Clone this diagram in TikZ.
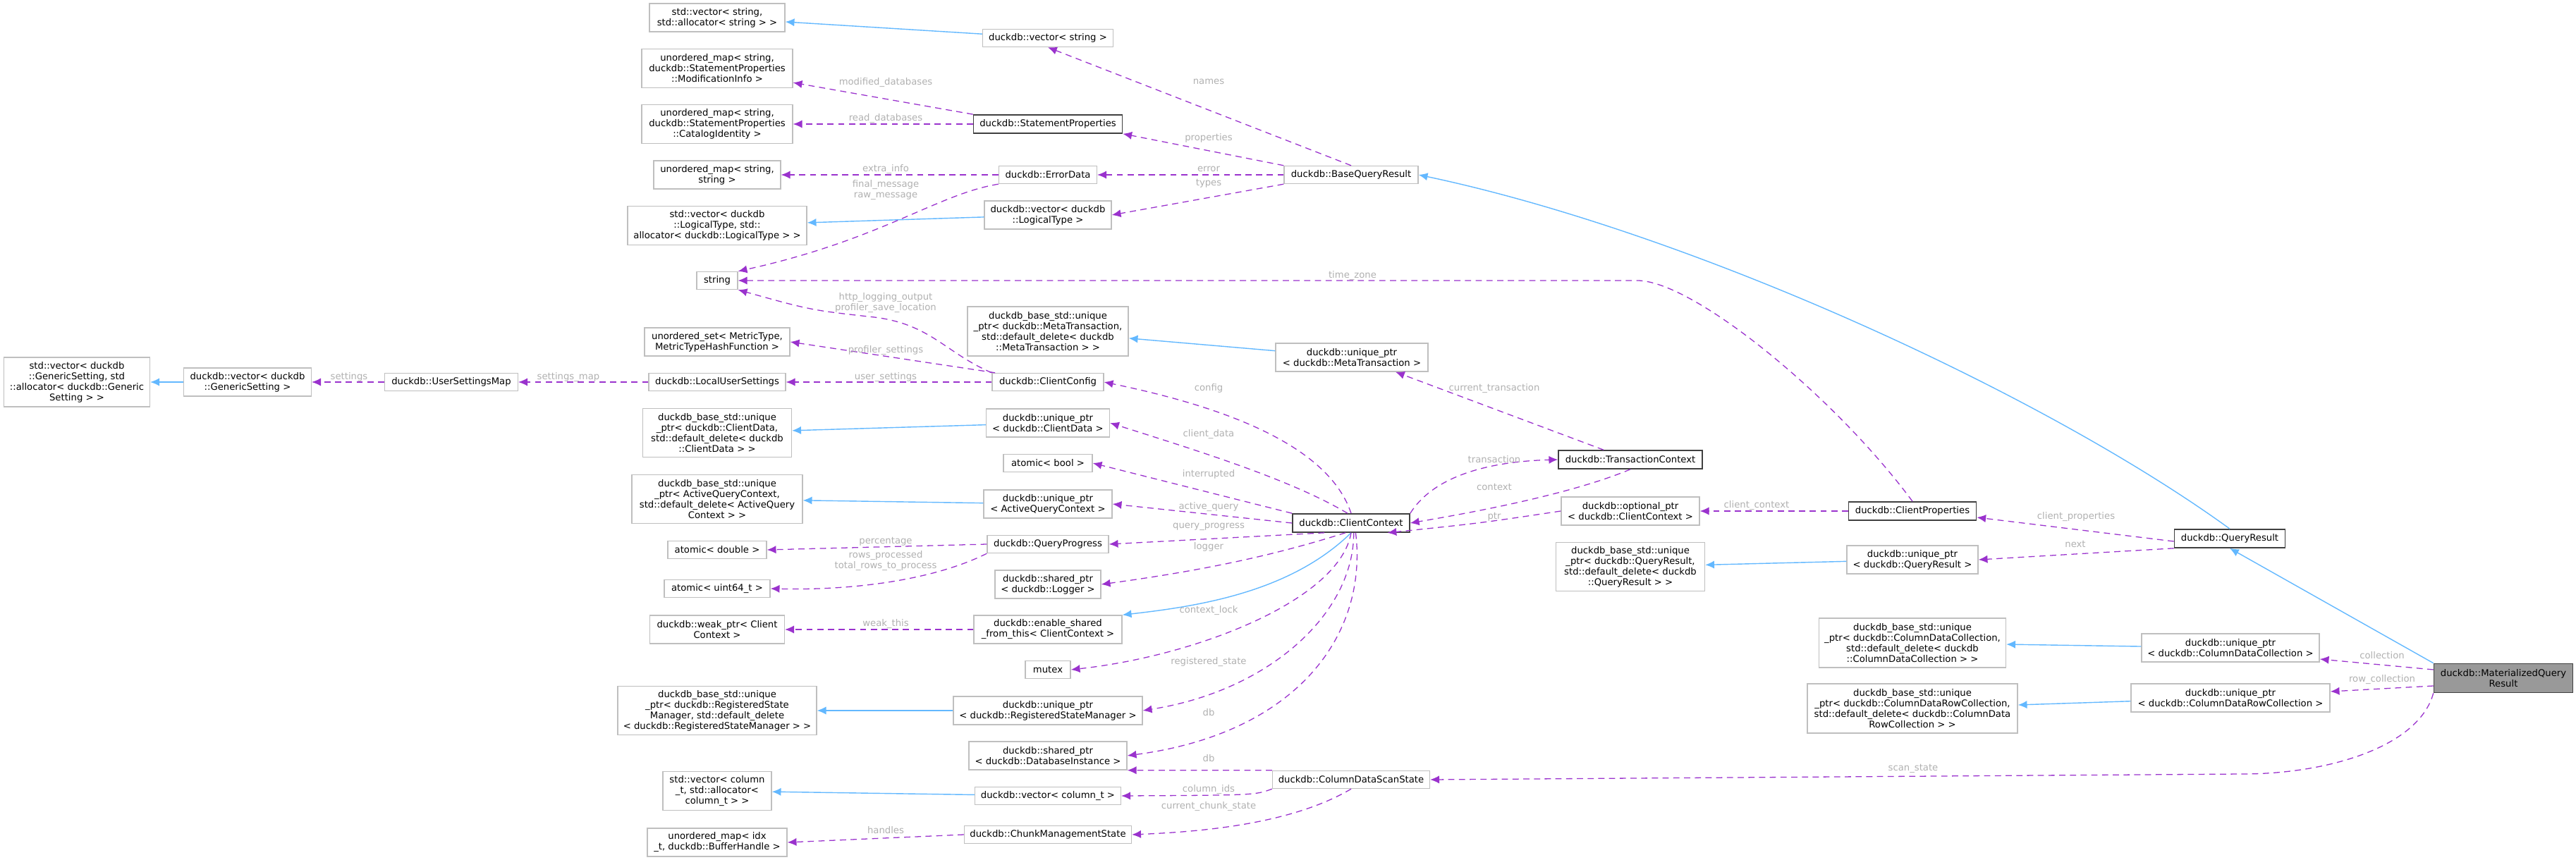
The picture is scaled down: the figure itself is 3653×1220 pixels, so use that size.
\documentclass[tikz,border=0pt]{standalone}
\usepackage{fontspec}
\setmainfont{DejaVu Sans}
\usetikzlibrary{arrows.meta}
\definecolor{inh}{HTML}{63B8FF}
\definecolor{use}{HTML}{9A32CD}
\definecolor{lbl}{HTML}{B0B0B0}
\definecolor{bd}{HTML}{BFBFBF}
\definecolor{dk}{HTML}{404040}
\begin{document}
\begin{tikzpicture}[x=0.25pt,y=-0.25pt,
  every node/.style={font=\fontsize{3.3pt}{3.75pt}\selectfont,inner sep=0pt,align=center},
  box/.style={draw=bd,line width=0.35pt,fill=white},
  dbox/.style={draw=dk,line width=0.4pt,fill=white},
  lab/.style={text=lbl},
  inhe/.style={draw=inh,line width=0.35pt,-{Latex[length=3.2pt,width=2.8pt]}},
  usee/.style={draw=use,line width=0.32pt,dash pattern=on 2.2pt off 1.6pt,-{Latex[length=3.2pt,width=2.8pt]}}]
\useasboundingbox (0,0) rectangle (3653,1220);
\newcommand\nd[7][box]{\node[#1,minimum width=#5*0.25pt,minimum height=#6*0.25pt] (#2) at (#3,#4) {#7};}
% column x=1017
\nd{vsa}{1017}{25}{192}{40}{std::vector< string,\\std::allocator< string > >}
\nd{umm}{1017}{97}{214}{55}{unordered\_map< string,\\duckdb::StatementProperties\\::ModificationInfo >}
\nd{umc}{1017}{176}{214}{55}{unordered\_map< string,\\duckdb::StatementProperties\\::CatalogIdentity >}
\nd{ums}{1017}{248}{180}{40}{unordered\_map< string,\\string >}
\nd{svl}{1017}{320}{254}{55}{std::vector< duckdb\\::LogicalType, std::\\allocator< duckdb::LogicalType > >}
\nd{str}{1017}{398}{58}{25}{string}
\nd{ums2}{1017}{485}{206}{40}{unordered\_set< MetricType,\\MetricTypeHashFunction >}
\nd{lus}{1017}{542}{194}{25}{duckdb::LocalUserSettings}
\nd{usm}{640}{542}{189}{25}{duckdb::UserSettingsMap}
\nd{vgs}{351}{542}{181}{40}{duckdb::vector< duckdb\\::GenericSetting >}
\nd{svgs}{109}{542}{207}{70}{std::vector< duckdb\\::GenericSetting, std\\::allocator< duckdb::Generic\\Setting > >}
\nd{bcd}{1017}{614}{211}{69}{duckdb\_base\_std::unique\\\_ptr< duckdb::ClientData,\\std::default\_delete< duckdb\\::ClientData > >}
\nd{baq}{1017}{708}{242}{69}{duckdb\_base\_std::unique\\\_ptr< ActiveQueryContext,\\std::default\_delete< ActiveQuery\\Context > >}
\nd{ad}{1017}{780}{140}{25}{atomic< double >}
\nd{au}{1017}{835}{150}{25}{atomic< uint64\_t >}
\nd{wp}{1017}{893}{191}{40}{duckdb::weak\_ptr< Client\\Context >}
\nd{brs}{1017}{1008}{282}{69}{duckdb\_base\_std::unique\\\_ptr< duckdb::RegisteredState\\Manager, std::default\_delete\\< duckdb::RegisteredStateManager > >}
\nd{svc}{1017}{1122}{154}{55}{std::vector< column\\\_t, std::allocator<\\column\_t > >}
\nd{umi}{1017}{1195}{198}{40}{unordered\_map< idx\\\_t, duckdb::BufferHandle >}
% column x=1486
\nd{vs}{1486}{54}{185}{25}{duckdb::vector< string >}
\nd[dbox]{sp}{1486}{176}{211}{26}{duckdb::StatementProperties}
\nd{ed}{1486}{248}{139}{25}{duckdb::ErrorData}
\nd{vlt}{1486}{305}{180}{40}{duckdb::vector< duckdb\\::LogicalType >}
\nd{bmt}{1486}{470}{228}{70}{duckdb\_base\_std::unique\\\_ptr< duckdb::MetaTransaction,\\std::default\_delete< duckdb\\::MetaTransaction > >}
\nd{cfg}{1486}{542}{158}{25}{duckdb::ClientConfig}
\nd{ucd}{1486}{600}{175}{40}{duckdb::unique\_ptr\\< duckdb::ClientData >}
\nd{ab}{1486}{657}{126}{25}{atomic< bool >}
\nd{uaq}{1486}{715}{182}{40}{duckdb::unique\_ptr\\< ActiveQueryContext >}
\nd{qp}{1486}{772}{172}{25}{duckdb::QueryProgress}
\nd{lg}{1486}{829}{150}{40}{duckdb::shared\_ptr\\< duckdb::Logger >}
\nd{es}{1486}{893}{210}{40}{duckdb::enable\_shared\\\_from\_this< ClientContext >}
\nd{mx}{1486}{950}{64}{25}{mutex}
\nd{urs}{1486}{1008}{268}{40}{duckdb::unique\_ptr\\< duckdb::RegisteredStateManager >}
\nd{sdb}{1486}{1072}{224}{40}{duckdb::shared\_ptr\\< duckdb::DatabaseInstance >}
\nd{vc}{1486}{1129}{207}{25}{duckdb::vector< column\_t >}
\nd{cms}{1486}{1184}{237}{25}{duckdb::ChunkManagementState}
% column x=1916
\nd{bqr}{1916}{248}{190}{25}{duckdb::BaseQueryResult}
\nd{umt}{1917}{507}{216}{40}{duckdb::unique\_ptr\\< duckdb::MetaTransaction >}
\nd[dbox]{cc}{1916}{742}{166}{26}{duckdb::ClientContext}
\nd{cds}{1916}{1106}{223}{25}{duckdb::ColumnDataScanState}
% column x=2312
\nd[dbox]{tc}{2312}{652}{204}{26}{duckdb::TransactionContext}
\nd{op}{2312}{725}{196}{40}{duckdb::optional\_ptr\\< duckdb::ClientContext >}
\nd{bqrs}{2312}{804}{211}{69}{duckdb\_base\_std::unique\\\_ptr< duckdb::QueryResult,\\std::default\_delete< duckdb\\::QueryResult > >}
% column x=2712
\nd[dbox]{cp}{2712}{725}{181}{26}{duckdb::ClientProperties}
\nd{uqr}{2712}{794}{186}{40}{duckdb::unique\_ptr\\< duckdb::QueryResult >}
\nd{bcdc}{2712}{912}{265}{70}{duckdb\_base\_std::unique\\\_ptr< duckdb::ColumnDataCollection,\\std::default\_delete< duckdb\\::ColumnDataCollection > >}
\nd{bcdr}{2712}{1005}{298}{70}{duckdb\_base\_std::unique\\\_ptr< duckdb::ColumnDataRowCollection,\\std::default\_delete< duckdb::ColumnData\\RowCollection > >}
% column x=3163
\nd[dbox]{qr}{3162}{764}{157}{26}{duckdb::QueryResult}
\nd{ucdc}{3163}{919}{252}{40}{duckdb::unique\_ptr\\< duckdb::ColumnDataCollection >}
\nd{ucdr}{3163}{990}{282}{40}{duckdb::unique\_ptr\\< duckdb::ColumnDataRowCollection >}
\node[draw=dk,line width=0.4pt,fill=black!40,minimum width=197*0.25pt,minimum height=41*0.25pt] (mqr) at (3550,962) {duckdb::MaterializedQuery\\Result};
% inheritance
\draw[inhe] (vs) -- (vsa);
\draw[inhe] (vlt) -- (svl);
\draw[inhe] (umt) -- (bmt);
\draw[inhe] (ucd) -- (bcd);
\draw[inhe] (uaq) -- (baq);
\draw[inhe] (urs) -- (brs);
\draw[inhe] (vc) -- (svc);
\draw[inhe] (vgs) -- (svgs);
\draw[inhe] (uqr) -- (bqrs);
\draw[inhe] (ucdc) -- (bcdc);
\draw[inhe] (ucdr) -- (bcdr);
\draw[inhe] (cc.south) .. controls (1830,840) and (1700,860) .. (es.north east);
\draw[inhe] (qr.north) .. controls (2900,560) and (2400,330) .. (bqr.east);
\draw[inhe] (mqr.north west) -- (qr.south);
% usage
\draw[usee] (sp.north west) -- ([yshift=2pt]umm.south east);
\draw[usee] (sp.west) -- (umc.east);
\draw[usee] (ed.west) -- (ums.east);
\draw[usee] (ed.south west) .. controls (1330,275) and (1250,340) .. (str.north east);
\draw[usee] (bqr.north) -- (vs.south);
\draw[usee] (bqr.north west) -- (sp.south east);
\draw[usee] (bqr.west) -- (ed.east);
\draw[usee] (bqr.south west) -- (vlt.east);
\draw[usee] (cfg.north west) .. controls (1340,500) and (1320,460) .. (1240,450) .. controls (1150,440) .. (str.south east);
\draw[usee] (cfg.170) -- (ums2.east);
\draw[usee] (cfg.west) -- (lus.east);
\draw[usee] (lus.west) -- (usm.east);
\draw[usee] (usm.west) -- (vgs.east);
\draw[usee] (cc.north) .. controls (1880,620) and (1700,570) .. (cfg.east);
\draw[usee] (cc.110) .. controls (1830,680) and (1700,640) .. (ucd.east);
\draw[usee] (cc.north west) -- (ab.east);
\draw[usee] (cc.west) -- (uaq.east);
\draw[usee] (cc.200) -- (qp.east);
\draw[usee] (cc.240) .. controls (1800,790) and (1700,810) .. (lg.east);
\draw[usee] (cc.south) .. controls (1900,850) and (1700,930) .. (mx.east);
\draw[usee] (cc.285) .. controls (1920,870) and (1800,980) .. (urs.east);
\draw[usee] (cc.295) .. controls (1940,900) and (1840,1040) .. (sdb.east);
\draw[usee] (cc.north east) .. controls (2030,680) and (2100,655) .. (tc.west);
\draw[usee] (tc.south) .. controls (2230,700) and (2100,725) .. (cc.east);
\draw[usee] ([xshift=-9.5pt]tc.north) -- ([xshift=15.5pt]umt.south);
\draw[usee] (op.west) .. controls (2100,742) .. (cc.345);
\draw[usee] (qp.west) -- (ad.east);
\draw[usee] (qp.south west) .. controls (1330,820) and (1220,838) .. (au.east);
\draw[usee] (es.west) -- (wp.east);
\draw[usee] (cds.north west) -- (sdb.south east);
\draw[usee] (cds.south west) .. controls (1780,1128) .. (vc.east);
\draw[usee] (cds.south) .. controls (1830,1170) and (1700,1180) .. (cms.east);
\draw[usee] (cms.west) -- (umi.east);
\draw[usee] (cp.west) -- (op.east);
\draw[usee] (cp.north) .. controls (2600,560) and (2400,398) .. (2322,398) -- (str.east);
\draw[usee] ([yshift=-1pt]qr.west) -- ([yshift=-2.25pt]cp.east);
\draw[usee] (qr.south west) -- (uqr.east);
\draw[usee] ([yshift=3pt]mqr.west) -- ([yshift=-4pt]ucdc.east);
\draw[usee] ([yshift=-2.75pt]mqr.west) -- ([yshift=2.25pt]ucdr.east);
\draw[usee] (mqr.south west) .. controls (3430,1060) and (3300,1098) .. (3180,1098) -- (cds.east);
% labels
\node[lab] (l1) at (1714,116) {names};
\node[lab] (l2) at (1714,196) {properties};
\node[lab] (l3) at (1714,240) {error};
\node[lab] (l4) at (1714,260) {types};
\node[lab] (l5) at (1714,551) {config};
\node[lab] (l6) at (1714,616) {client\_data};
\node[lab] (l7) at (1714,673) {interrupted};
\node[lab] (l8) at (1714,719) {active\_query};
\node[lab] (l9) at (1714,747) {query\_progress};
\node[lab] (l10) at (1714,776) {logger};
\node[lab] (l11) at (1714,866) {context\_lock};
\node[lab] (l12) at (1714,939) {registered\_state};
\node[lab] (l13) at (1714,1011) {db};
\node[lab] (l14) at (1714,1076) {db};
\node[lab] (l15) at (1714,1120) {column\_ids};
\node[lab] (l16) at (1714,1144) {current\_chunk\_state};
\node[lab] (l17) at (2119,551) {current\_transaction};
\node[lab] (l18) at (2119,652) {transaction};
\node[lab] (l19) at (2119,691) {context};
\node[lab] (l20) at (2119,733) {ptr};
\node[lab] (l21) at (1918,391) {time\_zone};
\node[lab] (l22) at (1256,117) {modified\_databases};
\node[lab] (l23) at (1256,168) {read\_databases};
\node[lab] (l24) at (1256,240) {extra\_info};
\node[lab] (l25) at (1256,270) {final\_message\\raw\_message};
\node[lab] (l26) at (1256,430) {http\_logging\_output\\profiler\_save\_location};
\node[lab] (l27) at (1256,497) {profiler\_settings};
\node[lab] (l28) at (1256,535) {user\_settings};
\node[lab] (l29) at (1256,768) {percentage};
\node[lab] (l30) at (1256,796) {rows\_processed\\total\_rows\_to\_process};
\node[lab] (l31) at (1256,885) {weak\_this};
\node[lab] (l32) at (1256,1178) {handles};
\node[lab] (l33) at (495,535) {settings};
\node[lab] (l34) at (806,535) {settings\_map};
\node[lab] (l35) at (2491,717) {client\_context};
\node[lab] (l36) at (2944,733) {client\_properties};
\node[lab] (l37) at (2943,772) {next};
\node[lab] (l38) at (3378,930) {collection};
\node[lab] (l39) at (3378,964) {row\_collection};
\node[lab] (l40) at (2713,1090) {scan\_state};
\end{tikzpicture}
\end{document}
